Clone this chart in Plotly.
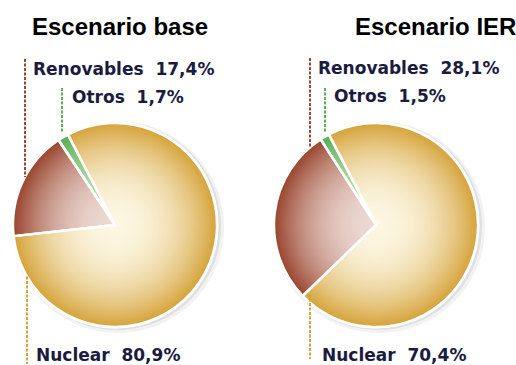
import math
import plotly.graph_objects as go

# Electricity generation share by source, two scenarios
categories = ["Nuclear", "Renovables", "Otros"]
base_values = [80.9, 17.4, 1.7]
ier_values = [70.4, 28.1, 1.5]
scenario_titles = ["Escenario base", "Escenario IER"]

W, H = 516, 365

# slice colours: (edge, centre) of the radial shading
edge_cols = {"Nuclear": (214, 164, 60), "Renovables": (154, 70, 48), "Otros": (91, 175, 85)}
centre_cols = {"Nuclear": (252, 246, 226), "Renovables": (236, 216, 210), "Otros": (190, 226, 182)}
text_col = "#1b1b3f"

def px(x):
    return x / W

def py(y):
    return 1 - y / H

def mix(a, b, t):
    return "rgb(%d,%d,%d)" % tuple(round(a[i] + (b[i] - a[i]) * t) for i in range(3))

def fmt(v):
    return f"{v:.1f}".replace(".", ",")

fig = go.Figure()

pies = [
    dict(values=base_values, cx=115, cy=225, r=102),
    dict(values=ier_values, cx=376, cy=225, r=102),
]

def add_disc(values, cx, cy, r, colors, line=None, opacity=1.0):
    fig.add_trace(go.Pie(
        labels=categories, values=values, sort=False, direction="clockwise",
        rotation=-27.5, textinfo="none", hoverinfo="label+percent",
        showlegend=False, opacity=opacity,
        marker=dict(colors=colors, line=line or dict(width=0)),
        domain=dict(x=[px(cx - r), px(cx + r)], y=[py(cy + r), py(cy - r)]),
    ))

n_layers = 48
for p in pies:
    vals, cx, cy, r = p["values"], p["cx"], p["cy"], p["r"]
    # soft drop shadow
    add_disc(vals, cx + 3, cy + 2, r + 4, ["#f2f2f2"] * 3)
    add_disc(vals, cx + 2, cy + 1, r + 2, ["#e0e0e0"] * 3)
    # white rim
    add_disc(vals, cx, cy, r + 1.5, ["#ffffff"] * 3)
    # shaded slices, drawn from the rim inwards
    for k in range(n_layers):
        f = 1 - k / n_layers
        t = 1 - f ** 2.2
        cols = [mix(edge_cols[c], centre_cols[c], t) for c in categories]
        add_disc(vals, cx, cy, r * f, cols)
    # white separators between slices
    add_disc(vals, cx, cy, r, ["rgba(0,0,0,0)"] * 3, line=dict(color="white", width=2.5))

shapes = []
annotations = []

def circle_y(p, x, side):
    dx = x - p["cx"]
    return p["cy"] + side * math.sqrt(max(p["r"] ** 2 - dx ** 2, 0))

def leader(x, y0, y1, colour):
    shapes.append(dict(type="line", xref="paper", yref="paper",
                       x0=px(x), x1=px(x), y0=py(y0), y1=py(y1),
                       line=dict(color=colour, width=2, dash="3px,1.5px")))

def label(x, y, name, v):
    annotations.append(dict(xref="paper", yref="paper", x=px(x), y=py(y),
                            xanchor="left", yanchor="middle", showarrow=False,
                            text=f"<b>{name}\u00a0\u00a0{fmt(v)}%</b>",
                            font=dict(family="DejaVu Sans", size=17, color=text_col)))

def rgb(c):
    return "rgb(%d,%d,%d)" % c

# left pie leaders and labels
p = pies[0]
leader(25, 59, circle_y(p, 25, -1), rgb(edge_cols["Renovables"]))
leader(62, 88, 133, rgb(edge_cols["Otros"]))
leader(27, circle_y(p, 27, 1), 364, rgb(edge_cols["Nuclear"]))
label(31, 69, "Renovables", base_values[1])
label(70, 97, "Otros", base_values[2])
label(34, 355, "Nuclear", base_values[0])

# right pie leaders and labels
p = pies[1]
leader(310, 58, circle_y(p, 310, -1), rgb(edge_cols["Renovables"]))
leader(325, 88, 133, rgb(edge_cols["Otros"]))
leader(310, 294, 359, rgb(edge_cols["Nuclear"]))
label(316, 68, "Renovables", ier_values[1])
label(332, 96, "Otros", ier_values[2])
label(320, 355, "Nuclear", ier_values[0])

for title, xc in zip(scenario_titles, [120, 435]):
    annotations.append(dict(xref="paper", yref="paper", x=px(xc), y=py(26),
                            xanchor="center", yanchor="middle", showarrow=False,
                            text=f"<b>{title}</b>",
                            font=dict(family="Liberation Sans", size=24, color="#000000")))

fig.update_layout(
    width=W, height=H, margin=dict(l=0, r=0, t=0, b=0),
    paper_bgcolor="white", plot_bgcolor="white",
    shapes=shapes, annotations=annotations,
)

fig.write_html("out.html")
